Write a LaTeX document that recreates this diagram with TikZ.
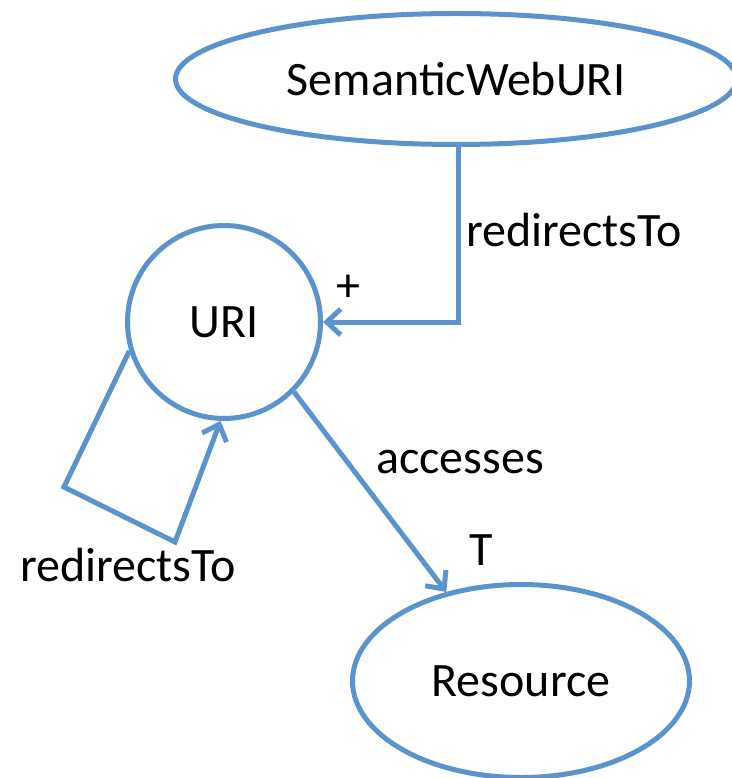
\documentclass[tikz,border=0pt]{standalone}
\usepackage{fontspec}
\setmainfont{Carlito}
\usetikzlibrary{arrows.meta,shapes.geometric}
\definecolor{edgeblue}{RGB}{91,148,204}
\tikzset{
  shp/.style={draw=edgeblue, line width=5pt, fill=white, inner sep=0pt, font=\fontsize{48}{52}\selectfont},
  conn/.style={draw=edgeblue, line width=5pt, line join=miter},
  arr/.style={conn, -{Straight Barb[length=14pt,width=26pt]}},
  lbl/.style={font=\fontsize{48}{52}\selectfont, inner sep=0pt}
}
\begin{document}
\begin{tikzpicture}[x=1pt,y=-1pt]
\useasboundingbox (0,0) rectangle (731,778);
\node[shp, ellipse, minimum width=561pt, minimum height=131pt] (sw) at (456,79) {\raisebox{-3pt}{SemanticWebURI}};
\node[shp, circle, minimum size=193pt] (uri) at (224,322) {\raisebox{-3pt}{URI}};
\node[shp, ellipse, minimum width=337pt, minimum height=193pt] (res) at (521,681) {\raisebox{-5pt}{Resource}};
\coordinate (c1) at (458,322);
\coordinate (l1) at (64,487);
\coordinate (l2) at (175,542);
\draw[arr] (c1 |- sw.south) -- (c1) -- (uri.east);
\draw[arr] (uri.197) -- (l1) -- (l2) -- (uri.268);
\draw[arr] (uri.-45.5) -- (res.130);
\node[lbl] (t1) at (574,230) {redirectsTo};
\node[lbl] (t2) at (348,288) {+};
\node[lbl] (t3) at (460,462) {accesses};
\node[lbl] (t4) at (481,550) {T};
\node[lbl] (t5) at (128,565) {redirectsTo};
\end{tikzpicture}
\end{document}
